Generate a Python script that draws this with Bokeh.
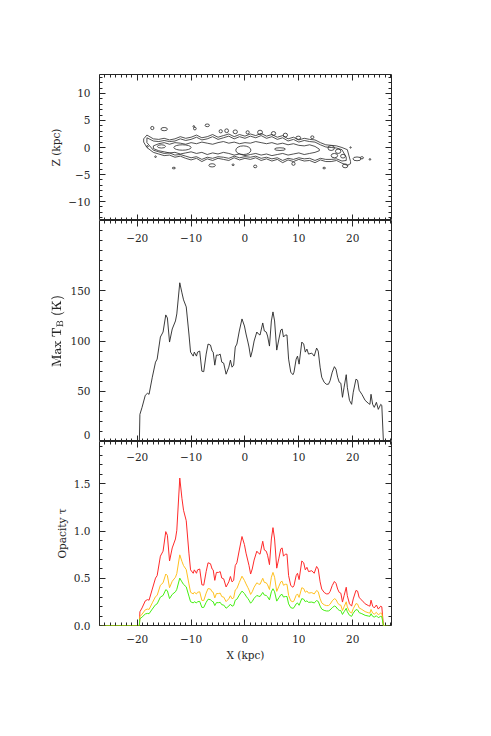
from bokeh.plotting import figure
from bokeh.models import (LinearAxis, FixedTicker, Range1d, ColumnDataSource,
                          CustomJSTickFormatter)
from bokeh.layouts import column
from bokeh.embed import file_html
from bokeh.resources import INLINE

# ---------------- data ----------------
x_kpc = [-27, -19.6, -19.5, -19.1, -18.5, -18.1, -17.8, -17.2, -16.6, -16.3,
         -15.7, -15.2, -14.7, -14.4, -14.0, -13.5, -12.9, -12.65, -12.1, -11.7,
         -11.4, -10.9, -10.4, -10.1, -9.6, -9.4, -9.0, -8.8, -8.4, -8.0,
         -7.65, -7.2, -6.85, -6.4, -6.1, -5.9, -5.6, -5.3, -4.9, -4.6,
         -4.3, -3.95, -3.5, -3.0, -2.7, -2.4, -2.1, -1.8, -1.5, -1.05,
         -0.55, -0.1, 0.2, 0.55, 0.75, 1.05, 1.35, 1.7, 2.2, 2.5,
         2.8, 3.3, 3.6, 3.95, 4.2, 4.55, 4.9, 5.2, 5.5, 5.9,
         6.3, 6.65, 6.9, 7.15, 7.5, 7.8, 8.1, 8.5, 8.9, 9.1,
         9.5, 9.75, 10.05, 10.55, 10.9, 11.2, 11.5, 11.8, 12.4, 12.85,
         13.3, 13.6, 13.95, 14.25, 14.7, 15.1, 15.5, 15.8, 16.2, 16.6,
         16.9, 17.2, 17.5, 17.8, 18.1, 18.4, 18.8, 19.0, 19.4, 19.8,
         20.1, 20.6, 20.9, 21.2, 21.7, 22.3, 22.9, 23.2, 23.4, 23.7,
         24.0, 24.4, 24.75, 25.2, 25.4, 25.7, 27]

tb_max = [0, 0, 27, 34, 46, 48, 47, 64, 79, 82,
          104, 109, 126, 123, 99, 112, 120, 127, 158, 148,
          141, 134, 107, 89, 85, 89, 85, 89, 90, 70,
          69.5, 87, 97, 96, 90, 89, 76, 86, 86, 87,
          79, 78, 67, 74, 81, 74, 76, 94, 97, 110,
          122, 115, 107, 99, 94, 84, 90, 100, 109, 107,
          106, 118, 110, 109, 105, 95, 120, 129, 120, 91,
          102, 111, 112, 104, 106, 106, 82, 69, 66.5, 69,
          82, 85, 77, 99, 97, 89, 92, 87, 88, 85,
          93, 90, 74, 64, 59, 57, 57, 60.5, 69, 74.5,
          72, 64, 59, 58, 44, 54, 66.5, 54, 41, 37,
          49, 62, 61, 51, 47, 41, 38, 37, 47, 37,
          34, 39, 32, 37, 36, 0, 0]

tau_red = [0, 0, 0.145, 0.186, 0.261, 0.274, 0.268, 0.386, 0.502, 0.528,
           0.734, 0.787, 0.994, 0.955, 0.683, 0.821, 0.916, 1.008, 1.561, 1.347,
           1.220, 1.109, 0.766, 0.589, 0.553, 0.589, 0.553, 0.589, 0.598, 0.431,
           0.427, 0.571, 0.664, 0.654, 0.598, 0.589, 0.478, 0.562, 0.562, 0.571,
           0.502, 0.494, 0.408, 0.462, 0.519, 0.462, 0.478, 0.635, 0.664, 0.799,
           0.942, 0.856, 0.766, 0.683, 0.635, 0.545, 0.598, 0.693, 0.787, 0.766,
           0.755, 0.892, 0.799, 0.787, 0.744, 0.644, 0.916, 1.036, 0.916, 0.607,
           0.713, 0.811, 0.821, 0.734, 0.755, 0.755, 0.528, 0.423, 0.405, 0.423,
           0.528, 0.553, 0.486, 0.683, 0.664, 0.589, 0.616, 0.571, 0.580, 0.553,
           0.625, 0.598, 0.462, 0.386, 0.350, 0.335, 0.335, 0.360, 0.423, 0.466,
           0.446, 0.386, 0.350, 0.342, 0.248, 0.315, 0.405, 0.315, 0.230, 0.205,
           0.281, 0.371, 0.364, 0.295, 0.268, 0.230, 0.211, 0.205, 0.268, 0.205,
           0.186, 0.217, 0.174, 0.205, 0.198, 0, 0]

tau_yellow = [0, 0, 0.094, 0.120, 0.166, 0.174, 0.170, 0.240, 0.306, 0.319,
              0.426, 0.452, 0.545, 0.528, 0.400, 0.468, 0.511, 0.550, 0.748, 0.679,
              0.634, 0.592, 0.440, 0.352, 0.334, 0.352, 0.334, 0.352, 0.357, 0.266,
              0.264, 0.343, 0.391, 0.386, 0.357, 0.352, 0.292, 0.338, 0.338, 0.343,
              0.306, 0.301, 0.253, 0.283, 0.315, 0.283, 0.292, 0.376, 0.391, 0.456,
              0.522, 0.477, 0.440, 0.400, 0.376, 0.329, 0.357, 0.405, 0.452, 0.440,
              0.436, 0.500, 0.456, 0.452, 0.431, 0.381, 0.511, 0.562, 0.511, 0.361,
              0.416, 0.462, 0.468, 0.426, 0.436, 0.436, 0.319, 0.261, 0.251, 0.261,
              0.319, 0.334, 0.297, 0.400, 0.391, 0.352, 0.366, 0.343, 0.348, 0.334,
              0.371, 0.357, 0.283, 0.240, 0.219, 0.211, 0.211, 0.225, 0.261, 0.284,
              0.274, 0.240, 0.219, 0.215, 0.159, 0.198, 0.251, 0.198, 0.147, 0.132,
              0.178, 0.232, 0.227, 0.186, 0.170, 0.147, 0.135, 0.132, 0.170, 0.132,
              0.120, 0.139, 0.113, 0.132, 0.128, 0, 0]

tau_green = [0, 0, 0.070, 0.089, 0.122, 0.128, 0.125, 0.174, 0.220, 0.229,
             0.301, 0.318, 0.379, 0.368, 0.285, 0.329, 0.357, 0.383, 0.502, 0.462,
             0.435, 0.409, 0.311, 0.252, 0.239, 0.252, 0.239, 0.252, 0.255, 0.192,
             0.191, 0.245, 0.278, 0.274, 0.255, 0.252, 0.211, 0.242, 0.242, 0.245,
             0.220, 0.217, 0.183, 0.205, 0.226, 0.205, 0.211, 0.268, 0.278, 0.322,
             0.364, 0.339, 0.311, 0.285, 0.268, 0.236, 0.255, 0.288, 0.318, 0.311,
             0.307, 0.350, 0.322, 0.318, 0.304, 0.271, 0.357, 0.389, 0.357, 0.258,
             0.294, 0.325, 0.329, 0.301, 0.307, 0.307, 0.229, 0.189, 0.182, 0.189,
             0.229, 0.239, 0.214, 0.285, 0.278, 0.252, 0.261, 0.245, 0.248, 0.239,
             0.264, 0.255, 0.205, 0.174, 0.160, 0.154, 0.154, 0.164, 0.189, 0.206,
             0.198, 0.174, 0.160, 0.157, 0.117, 0.145, 0.182, 0.145, 0.108, 0.097,
             0.131, 0.168, 0.165, 0.136, 0.125, 0.108, 0.100, 0.097, 0.125, 0.097,
             0.089, 0.103, 0.083, 0.097, 0.094, 0, 0]

# contour levels of the edge-on HI disk (Z vs X), read as upper/lower edges
c1_x = [-18.8, -18.2, -17, -16, -15, -14, -13, -12, -11, -10,
        -9, -8, -7, -6, -5, -4, -3, -2, -1, 0,
        1, 2, 3, 4, 5, 6, 7, 8, 9, 10,
        11, 12, 13, 14, 15, 16, 17, 18, 19, 19.6]
c1_top = [1.6, 2.3, 1.6, 1.5, 1.7, 1.4, 1.6, 2.0, 1.7, 1.9,
          2.3, 1.8, 2.0, 2.4, 1.9, 2.2, 2.5, 2.0, 2.4, 2.1,
          2.5, 2.2, 2.6, 2.1, 2.4, 1.9, 2.2, 1.6, 1.9, 1.4,
          1.7, 1.5, 1.4, 0.9, 0.5, 0.4, 0.3, 0.0, -0.4, -2.6]
c1_bot = [1.0, 0.0, -0.9, -1.2, -1.5, -1.4, -1.8, -1.6, -2.0, -2.3,
          -2.0, -2.6, -2.1, -2.4, -2.0, -2.2, -2.4, -1.9, -2.3, -2.0,
          -2.2, -1.9, -2.4, -2.1, -2.5, -2.2, -2.8, -2.3, -2.6, -2.2,
          -2.5, -2.4, -2.8, -2.3, -2.6, -2.6, -2.4, -2.9, -3.3, -3.0]

c2_x = [-18.2, -17, -16, -15, -14, -13, -12, -11, -10, -9,
        -8, -7, -6, -5, -4, -3, -2, -1, 0, 1,
        2, 3, 4, 5, 6, 7, 8, 9, 10, 11,
        12, 13, 14, 15, 16, 17, 18, 18.8]
c2_top = [1.8, 1.2, 1.1, 1.3, 1.1, 1.2, 1.6, 1.3, 1.5, 1.9,
          1.4, 1.6, 2.0, 1.5, 1.8, 2.1, 1.6, 2.0, 1.7, 2.1,
          1.8, 2.2, 1.7, 2.0, 1.5, 1.8, 1.2, 1.5, 1.0, 1.3,
          1.1, 1.0, 0.5, 0.1, 0.0, -0.1, -0.4, -1.8]
c2_bot = [0.9, -0.5, -0.8, -1.1, -1.0, -1.4, -1.3, -1.6, -1.9, -1.7,
          -2.2, -1.8, -2.0, -1.7, -1.8, -2.0, -1.6, -1.9, -1.7, -1.8,
          -1.6, -2.0, -1.8, -2.1, -1.9, -2.4, -2.0, -2.2, -1.9, -2.1,
          -2.0, -2.4, -2.0, -2.2, -2.2, -2.1, -2.5, -2.4]

c3_x = [-17, -16, -15, -14, -13, -12, -11, -10, -9, -8,
        -7, -6, -5, -4, -3, -2, -1, 0, 1, 2,
        3, 4, 5, 6, 7, 8, 9, 10, 11, 12,
        13, 13.8]
c3_top = [0.3, 0.7, 0.9, 0.6, 0.9, 0.8, 0.6, 0.9, 0.7, 1.0,
          0.8, 0.6, 0.9, 1.1, 0.8, 1.0, 0.7, 0.9, 0.8, 1.1,
          0.9, 0.7, 0.9, 0.6, 0.8, 0.5, 0.7, 0.4, 0.3, 0.5,
          0.2, -0.3]
c3_bot = [-0.2, -0.6, -0.8, -1.0, -0.9, -1.2, -1.0, -0.8, -1.1, -0.9,
          -1.3, -1.0, -1.2, -0.9, -1.1, -1.4, -1.2, -1.5, -1.3, -1.1,
          -1.4, -1.2, -1.5, -1.3, -1.1, -1.4, -1.2, -1.0, -1.3, -1.1,
          -0.9, -0.6]

# small closed contours (peaks and islands): centre X, centre Z, size
isl_x = [-11.6, -0.3, -15.5, 6.5,
         -17.2, -15.0, -9.3, -7.0, -4.5, -3.4, -1.8, 0.5, 2.8, 5.3, 7.5, 9.9, 12.5,
         16.0, 17.3, 16.6, 18.2, 20.8, 21.7,
         -13.2, -6.1, -2.2, 1.9, 9.0, 14.7, 18.6,
         -18.1, -16.6, 19.6, 23.2, -9.5]
isl_z = [0.0, -0.5, 0.2, -0.3,
         3.6, 3.4, 3.5, 4.1, 3.0, 3.1, 2.9, 2.8, 2.8, 2.6, 2.3, 1.8, 1.9,
         -0.1, -0.7, -1.5, -1.6, -2.1, -1.9,
         -3.8, -3.3, -3.2, -3.5, -3.0, -3.8, -3.4,
         0.2, -1.7, 0.0, -2.2, 3.9]
isl_w = [3.2, 2.8, 1.5, 2.0,
         0.6, 1.2, 0.5, 0.8, 0.6, 0.7, 0.8, 0.6, 0.9, 0.8, 0.8, 0.9, 0.6,
         1.2, 1.0, 1.2, 0.9, 1.5, 0.6,
         0.6, 1.2, 0.4, 0.6, 0.6, 0.5, 1.0,
         0.3, 0.3, 0.25, 0.3, 0.3]
isl_h = [1.0, 1.6, 0.6, 0.5,
         0.6, 0.6, 0.5, 0.5, 0.6, 0.7, 0.7, 0.6, 0.8, 0.7, 0.7, 0.6, 0.5,
         0.9, 0.8, 0.8, 0.7, 0.7, 0.4,
         0.3, 0.6, 0.3, 0.5, 0.6, 0.3, 0.7,
         0.3, 0.3, 0.25, 0.3, 0.3]

x_major = [-20, -10, 0, 10, 20]
z_major = [-10, -5, 0, 5, 10]
tb_major = [0, 50, 100, 150]
tau_major = [0.0, 0.5, 1.0, 1.5]

# ---------------- styling ----------------
FONT = "DejaVu Serif"
FS = "10.5px"
INK = "#262626"
X_LO, X_HI = -27.0, 27.2
FRAME_W = 292

minus_fmt = CustomJSTickFormatter(code="return tick < 0 ? '\\u2212' + Math.abs(tick) : String(tick);")
tenth_fmt = CustomJSTickFormatter(code="return tick.toFixed(1);")


def style(ax, labels, inward=True, standoff=8):
    ax.axis_line_color = None
    ax.major_tick_line_color = INK
    ax.minor_tick_line_color = INK
    ax.major_tick_line_width = 1
    ax.minor_tick_line_width = 1
    if inward:
        ax.major_tick_in, ax.major_tick_out = 6, 0
        ax.minor_tick_in, ax.minor_tick_out = 3, 0
    else:
        ax.major_tick_in, ax.major_tick_out = 0, 6
        ax.minor_tick_in, ax.minor_tick_out = 0, 3
    ax.major_label_text_font = FONT
    ax.major_label_text_font_size = FS
    ax.major_label_text_color = INK if labels else None
    ax.major_label_standoff = standoff
    ax.axis_label_text_font = FONT
    ax.axis_label_text_font_size = FS
    ax.axis_label_text_font_style = "normal"
    ax.axis_label_text_color = INK


def x_ticker():
    return FixedTicker(ticks=x_major, minor_ticks=[float(v) for v in range(-27, 28)])


def make_fig(y_lo, y_hi, frame_h, top_border, bottom_border):
    p = figure(frame_width=FRAME_W, frame_height=frame_h,
               x_range=Range1d(X_LO, X_HI), y_range=Range1d(y_lo, y_hi),
               x_axis_location=None, y_axis_location=None,
               toolbar_location=None, output_backend="svg",
               min_border_left=99, min_border_right=12,
               min_border_top=top_border, min_border_bottom=bottom_border)
    p.grid.visible = False
    p.outline_line_color = INK
    p.outline_line_width = 1
    p.background_fill_color = "white"
    p.border_fill_color = "white"
    return p


def add_axes(p, y_lo, y_hi, y_major, y_minor, y_fmt, y_title,
             top_label_row, bottom_labels, bottom_title=None, row_standoff=7,
             label_pos=None, label_text=None):
    # labelled left axis (text only; marks come from the tick axes below)
    pos = label_pos if label_pos is not None else y_major
    la = LinearAxis(ticker=FixedTicker(ticks=pos, minor_ticks=[]),
                    formatter=y_fmt, axis_label=y_title)
    style(la, True, standoff=9)
    la.major_tick_in = la.major_tick_out = 0
    la.minor_tick_in = la.minor_tick_out = 0
    la.axis_label_standoff = 3
    if label_text is not None:
        la.major_label_overrides = dict(zip(pos, label_text))
    p.add_layout(la, "left")
    # tick marks on left and right edges
    for loc, side in ((X_LO, "left"), (X_HI, "right")):
        ax = LinearAxis(ticker=FixedTicker(ticks=y_major, minor_ticks=y_minor),
                        fixed_location=loc)
        style(ax, False)
        p.add_layout(ax, side)
    if top_label_row:
        ta = LinearAxis(ticker=x_ticker(), formatter=minus_fmt, fixed_location=y_hi)
        style(ta, True, inward=False, standoff=row_standoff)
        p.add_layout(ta, "below")
    else:
        ta = LinearAxis(ticker=x_ticker(), fixed_location=y_hi)
        style(ta, False)
        p.add_layout(ta, "above")
    if bottom_labels:
        ba = LinearAxis(ticker=x_ticker(), formatter=minus_fmt, axis_label=bottom_title)
        style(ba, True, standoff=9)
        ba.axis_label_standoff = 3
        p.add_layout(ba, "below")
    else:
        ba = LinearAxis(ticker=x_ticker(), fixed_location=y_lo)
        style(ba, False)
        p.add_layout(ba, "below")


def ring(xs, top, bot):
    return list(xs) + list(xs)[::-1] + [xs[0]], list(top) + list(bot)[::-1] + [top[0]]


# ---------------- panel 1: contours ----------------
Z_LO, Z_HI = -13.5, 13.5
p1 = make_fig(Z_LO, Z_HI, 146, 74, 0)
add_axes(p1, Z_LO, Z_HI, z_major, [float(v) for v in range(-13, 14)],
         minus_fmt, "Z (kpc)", False, False)
rings = [ring(c1_x, c1_top, c1_bot), ring(c2_x, c2_top, c2_bot), ring(c3_x, c3_top, c3_bot)]
p1.multi_line(xs=[r[0] for r in rings], ys=[r[1] for r in rings],
              line_color=INK, line_width=0.8)
p1.ellipse(x=isl_x, y=isl_z, width=isl_w, height=isl_h,
           fill_color=None, line_color=INK, line_width=0.8)

# ---------------- panel 2: max brightness temperature ----------------
T_LO, T_HI = 0, 220
p2 = make_fig(T_LO, T_HI, 221, 0, 0)
# the "0" label is lifted a few pixels above the panel's lower edge so that
# the canvas does not clip it (as in the reference)
tb_label_pos = [T_LO + 6] + tb_major[1:]
add_axes(p2, T_LO, T_HI, tb_major, [float(v) for v in range(0, 221, 10)],
         minus_fmt, r"Max $$\mathrm{T_B}$$ (K)", True, False, row_standoff=7,
         label_pos=tb_label_pos, label_text=[str(v) for v in tb_major])
src = ColumnDataSource(dict(x=x_kpc, tb=tb_max, r=tau_red, y=tau_yellow, g=tau_green))
p2.line("x", "tb", source=src, line_color=INK, line_width=0.9)

# ---------------- panel 3: opacity ----------------
O_LO, O_HI = 0, 1.948
p3 = make_fig(O_LO, O_HI, 184, 0, 6)
add_axes(p3, O_LO, O_HI, tau_major, [v / 10 for v in range(0, 20)],
         tenth_fmt, "Opacity \u03c4", True, True, "X (kpc)", row_standoff=5)
p3.line("x", "r", source=src, line_color="#ff2a2a", line_width=1)
p3.line("x", "y", source=src, line_color="#ffc020", line_width=1)
p3.line("x", "g", source=src, line_color="#44ee11", line_width=1)

layout = column(p1, p2, p3, spacing=0)
open("out.html", "w").write(file_html(layout, INLINE))
